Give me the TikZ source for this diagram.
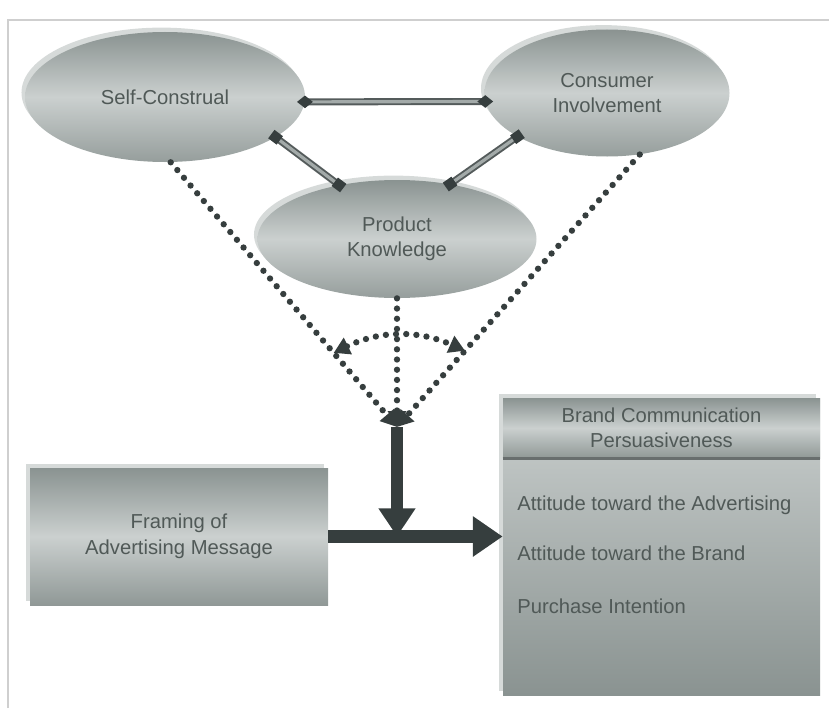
\documentclass[tikz,border=0pt]{standalone}
\usepackage{fontspec}
\setmainfont{Liberation Sans}
\usetikzlibrary{arrows.meta,shapes.geometric,shadows,decorations.markings,positioning}
\definecolor{shapedark}{HTML}{8A9391}
\definecolor{shapelite}{HTML}{CBD0CF}
\definecolor{rimgray}{HTML}{D6DAD9}
\definecolor{txtgray}{HTML}{505957}
\definecolor{arrowdark}{HTML}{363E3E}
\definecolor{linklite}{HTML}{A3AAA9}
\definecolor{framegray}{HTML}{CFCFCF}

\begin{document}
\begin{tikzpicture}[font=\fontsize{11.5}{14.5}\selectfont, text=txtgray,
    construct/.style={ellipse, align=center, top color=shapedark, bottom color=shapedark!90, middle color=shapelite,
        general shadow={fill=rimgray, shadow xshift=-2pt, shadow yshift=2.5pt}},
    box/.style={rectangle, align=center, top color=shapedark, bottom color=shapedark!95, middle color=shapelite,
        general shadow={fill=rimgray, shadow xshift=-2.5pt, shadow yshift=2.5pt}},
    link/.style={draw=arrowdark!85, line width=4pt, postaction={draw=linklite, line width=1.8pt}, postaction={decorate}},
    diamondends/.style={decoration={markings,
        mark=at position 0 with {\fill[arrowdark] (-4.5pt,0) -- (0,3.6pt) -- (4.5pt,0) -- (0,-3.6pt) -- cycle;},
        mark=at position 1 with {\fill[arrowdark] (-4.5pt,0) -- (0,3.6pt) -- (4.5pt,0) -- (0,-3.6pt) -- cycle;}}},
    squareends/.style={decoration={markings,
        mark=at position 0 with {\fill[arrowdark] (-3pt,-3pt) rectangle (3pt,3pt);},
        mark=at position 1 with {\fill[arrowdark] (-3pt,-3pt) rectangle (3pt,3pt);}}},
    dots/.style={arrowdark, line width=3.6pt, line cap=round, dash pattern=on 0pt off 5.8pt},
    bigarrow/.style={draw=arrowdark, line width=6.5pt, -{Triangle[length=16pt,width=20pt]}}]
    \useasboundingbox (0,0) rectangle (16.58,14.16);
    \draw[framegray, line width=1pt] (0.16,0) -- (0.16,13.76) -- (16.58,13.76);

    % constructs
    \node[construct, minimum width=5.6cm, minimum height=2.6cm] (sc) at (3.3,12.22) {Self-Construal};
    \node[construct, minimum width=4.9cm, minimum height=2.54cm] (ci) at (12.14,12.3) {Consumer\\Involvement};
    \node[construct, minimum width=5.58cm, minimum height=2.36cm] (pk) at (7.94,9.38) {Product\\Knowledge};

    \draw[link, diamondends] (sc.-2) -- (ci.184);
    \draw[link, squareends] (sc.-20) -- (pk.137);
    \draw[link, squareends] (ci.206) -- (pk.46);

    % moderating paths
    \coordinate (meet) at (7.94,5.62);
    \draw[dots, -{Triangle[length=9pt,width=10pt]}] (sc.-85) -- coordinate[pos=0.72] (lmid) (meet);
    \draw[dots, -{Triangle[length=9pt,width=10pt]}] (ci.-62) -- coordinate[pos=0.72] (rmid) (meet);
    \draw[dots, -{Triangle[length=9pt,width=10pt]}] (pk.south) -- (meet);
    \draw[dots, {Triangle[length=9pt,width=10pt]}-{Triangle[length=9pt,width=10pt]}] (lmid) to[bend left=25] (rmid);

    % boxes
    \node[box, minimum width=5.96cm, minimum height=2.74cm] (fr) at (3.58,3.43) {Framing of\\Advertising Message};
    \node[box, top color=shapelite, middle color=shapelite!85!shapedark, bottom color=shapedark, minimum width=6.34cm, minimum height=5.94cm] (bc) at (13.23,3.23) {};
    \node[box, general shadow={}, anchor=north, minimum width=6.34cm, minimum height=1.2cm] (bchead) at (bc.north) {Brand Communication\\Persuasiveness};
    \draw[arrowdark!75, line width=2pt] (bchead.south west) -- (bchead.south east);
    \begin{scope}[every node/.append style={anchor=west, inner sep=0pt}]
        \node (aad) at (10.34,4.06) {Attitude toward the Advertising};
        \node (ab) at (10.34,3.1) {Attitude toward the Brand};
        \node (pi) at (10.34,2.04) {Purchase Intention};
    \end{scope}

    \draw[bigarrow] (meet) -- (meet |- fr.east);
    \draw[bigarrow, line width=7.5pt, -{Triangle[length=17pt,width=22pt]}] (fr.east) -- (fr.east -| bc.west);
\end{tikzpicture}
\end{document}
